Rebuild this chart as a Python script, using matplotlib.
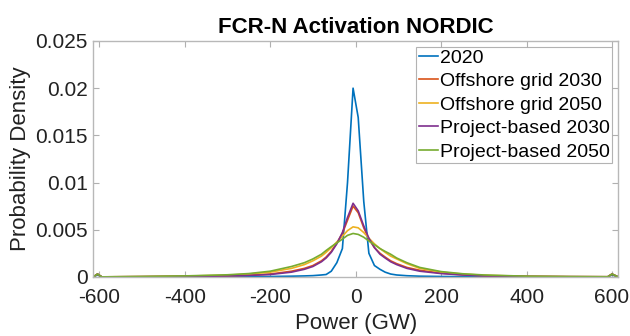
import numpy as np
from matplotlib import pyplot as plt

plt.rcParams['font.family'] = ['Liberation Sans', 'DejaVu Sans']
plt.rcParams['axes.unicode_minus'] = False

# power grid (GW) shared by all series
power = [-614, -604, -594, -500, -400, -300, -250, -200, -150, -120, -100, -80, -69, -57,
         -44, -31, -19, -6, 6, 19, 31, 44, 57, 69, 82, 96, 120, 150, 200, 250, 300,
         400, 500, 590, 600, 614]

pd_2020 = [0, 0.0002, 0, 0, 0, 0, 0.00002, 0.00004, 0.00007, 0.0001, 0.00013, 0.0002, 0.00025, 0.0006,
           0.0015, 0.0030, 0.0100, 0.0200, 0.0169, 0.0080, 0.0025, 0.0012, 0.0008, 0.0005, 0.0003, 0.0002,
           0.00012, 0.00007, 0.00004, 0.00002, 0, 0, 0, 0, 0.0002, 0]

off_2030 = [0, 0.0003, 0, 0.00002, 0.00005, 0.0001, 0.00018, 0.0003, 0.0006, 0.0009, 0.0012, 0.0017, 0.0021, 0.0027,
            0.0036, 0.0046, 0.0060, 0.0075, 0.0068, 0.0052, 0.0040, 0.0031, 0.0025, 0.0021, 0.0017, 0.0014,
            0.0010, 0.0007, 0.0004, 0.00022, 0.00012, 0.00005, 0.00002, 0.00001, 0.0003, 0]

off_2050 = [0, 0.0003, 0, 0.00003, 0.00008, 0.00018, 0.0003, 0.0005, 0.0009, 0.0013, 0.0017, 0.0022, 0.0026, 0.0031,
            0.0037, 0.0043, 0.0049, 0.0053, 0.0052, 0.0047, 0.0041, 0.0035, 0.0030, 0.0026, 0.0022, 0.0019,
            0.0014, 0.0009, 0.0005, 0.0003, 0.00017, 0.00006, 0.00002, 0.00001, 0.0003, 0]

proj_2030 = [0, 0.0003, 0, 0.00002, 0.00004, 0.00009, 0.00015, 0.00025, 0.0005, 0.0008, 0.0011, 0.0016, 0.0020, 0.0026,
             0.0035, 0.0047, 0.0063, 0.0078, 0.0070, 0.0054, 0.0041, 0.0031, 0.0024, 0.0020, 0.0016, 0.0013,
             0.0009, 0.0006, 0.00035, 0.0002, 0.0001, 0.00004, 0.00002, 0.00001, 0.0003, 0]

proj_2050 = [0, 0.0003, 0, 0.00004, 0.0001, 0.00022, 0.00035, 0.0006, 0.0011, 0.0015, 0.0019, 0.0024, 0.0028, 0.0032,
             0.0036, 0.0040, 0.0044, 0.0046, 0.0045, 0.0042, 0.0038, 0.0034, 0.0030, 0.0027, 0.0024, 0.0020,
             0.0015, 0.0010, 0.00056, 0.00033, 0.0002, 0.00007, 0.00003, 0.00001, 0.0003, 0]

series = [('2020', pd_2020, '#0072BD'),
          ('Offshore grid 2030', off_2030, '#D95319'),
          ('Offshore grid 2050', off_2050, '#EDB120'),
          ('Project-based 2030', proj_2030, '#7E2F8E'),
          ('Project-based 2050', proj_2050, '#77AC30')]

fig = plt.figure(figsize=(6.3, 3.36), dpi=100)
ax = fig.add_axes([0.148, 0.176, 0.833, 0.702])

for name, vals, col in series:
    ax.plot(power, vals, color=col, lw=1.2, label=name)

ax.set_xlim(-614, 614)
ax.set_ylim(0, 0.025)
ax.set_xticks([-600, -400, -200, 0, 200, 400, 600])
ax.set_yticks([0, 0.005, 0.01, 0.015, 0.02, 0.025])
ax.set_yticklabels(['0', '0.005', '0.01', '0.015', '0.02', '0.025'])
ax.tick_params(direction='in', top=True, right=True, labelsize=15, length=4,
               color='#b0b0b0', labelcolor='#222222')
ax.tick_params(axis='x', pad=8)
ax.tick_params(axis='y', pad=4)
for s in ax.spines.values():
    s.set_color('#b8b8b8')
    s.set_linewidth(1.0)

ax.set_xlabel('Power (GW)', fontsize=16, color='#222222', labelpad=4)
ax.set_ylabel('Probability Density', fontsize=16, color='#222222', labelpad=3)
ax.set_title('FCR-N Activation NORDIC', fontsize=16, fontweight='bold', pad=6)

leg = ax.legend(loc='upper right', fontsize=14, frameon=True, fancybox=False,
                handlelength=1.0, handletextpad=0.1, borderpad=0.12, labelspacing=0.3,
                borderaxespad=0.3)
leg.get_frame().set_edgecolor('#a0a0a0')
leg.get_frame().set_linewidth(0.8)

plt.savefig('out.png', dpi=100)
